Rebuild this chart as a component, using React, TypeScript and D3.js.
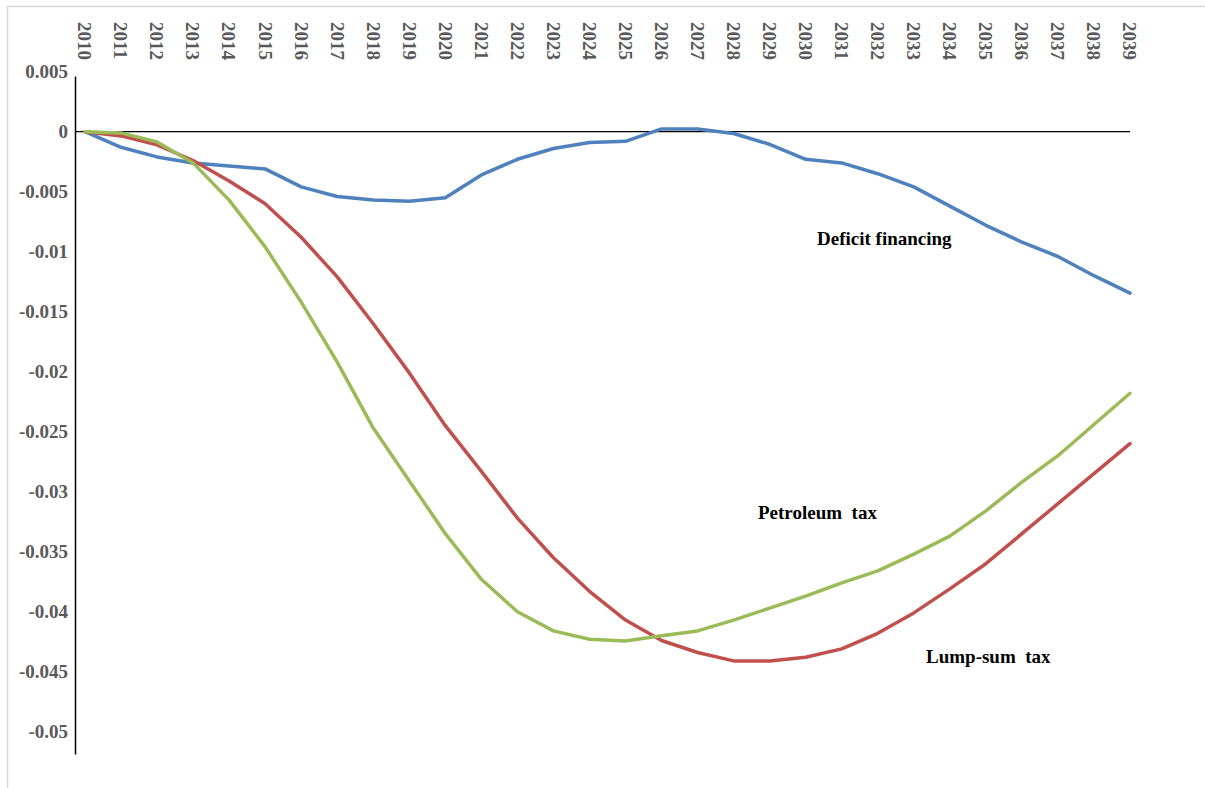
import React from 'react'
import * as d3 from 'd3'

const years = d3.range(2010, 2040).map(String)

const deficitFinancing = [
  0, -0.0013, -0.0021, -0.0026, -0.00285, -0.0031, -0.0046, -0.0054, -0.0057, -0.0058,
  -0.0055, -0.0036, -0.0023, -0.0014, -0.0009, -0.0008, 0.00023, 0.00023, -0.00015, -0.00105,
  -0.0023, -0.0026, -0.0035, -0.0046, -0.0062, -0.0078, -0.0092, -0.0104, -0.012, -0.01345,
]

const lumpSumTax = [
  0, -0.00035, -0.0011, -0.0024, -0.0041, -0.006, -0.0088, -0.0121, -0.016, -0.0201,
  -0.0245, -0.0283, -0.0322, -0.0355, -0.0383, -0.0407, -0.0424, -0.0434, -0.0441, -0.0441,
  -0.0438, -0.0431, -0.0418, -0.0401, -0.0381, -0.036, -0.0335, -0.031, -0.0285, -0.026,
]

const petroleumTax = [
  0, -0.0001, -0.00085, -0.0026, -0.0057, -0.0096, -0.0142, -0.0192, -0.0247, -0.0291,
  -0.0335, -0.0373, -0.04, -0.0416, -0.0423, -0.04245, -0.042, -0.0416, -0.0407, -0.0397,
  -0.0387, -0.0376, -0.0366, -0.0352, -0.0337, -0.0316, -0.0292, -0.027, -0.0244, -0.0218,
]

const yTicks = [0.005, 0, -0.005, -0.01, -0.015, -0.02, -0.025, -0.03, -0.035, -0.04, -0.045, -0.05]

const series = [
  { name: 'Deficit financing', values: deficitFinancing, color: '#4F81BD' },
  { name: 'Lump-sum  tax', values: lumpSumTax, color: '#C0504D' },
  { name: 'Petroleum  tax', values: petroleumTax, color: '#9BBB59' },
]

const labels = [
  { text: 'Deficit financing', x: 817, y: 238 },
  { text: 'Petroleum  tax', x: 758, y: 512 },
  { text: 'Lump-sum  tax', x: 926, y: 656 },
]

const W = 1205
const H = 788
const font = '"Liberation Serif", "Times New Roman", serif'

export default function App() {
  const x = d3.scalePoint<string>().domain(years).range([85, 1130])
  const y = d3.scaleLinear().domain([-0.05, 0.005]).range([731.7, 71.7])
  const axisX = 75.5

  const line = d3.line<number>()
    .x((_, i) => x(years[i]) as number)
    .y(d => y(d))

  return (
    <svg width={W} height={H} style={{ position: 'absolute', left: 0, top: 0, background: '#fff' }}>
      {/* chart area border */}
      <line x1={7} x2={W} y1={6.5} y2={6.5} stroke="#D9D9D9" strokeWidth={1.5} />
      <line x1={7.5} x2={7.5} y1={6} y2={H} stroke="#D9D9D9" strokeWidth={1.5} />

      {/* y axis */}
      <line x1={axisX} x2={axisX} y1={y(0.0046)} y2={y(-0.0519)} stroke="#000" strokeWidth={1.5} />
      {yTicks.map(t => (
        <text key={t} x={68} y={y(t)} dy="0.35em" textAnchor="end"
          fontFamily={font} fontWeight="bold" fontSize={19} fill="#595959">
          {t === 0 ? '0' : String(t)}
        </text>
      ))}

      {/* zero line */}
      <line x1={axisX} x2={x(years[years.length - 1])} y1={y(0)} y2={y(0)} stroke="#000" strokeWidth={1.3} />

      {/* category labels along top */}
      {years.map(yr => (
        <text key={yr} transform={`translate(${x(yr)},22) rotate(90)`} dy="0.35em"
          fontFamily={font} fontWeight="bold" fontSize={19} fill="#595959">
          {yr}
        </text>
      ))}

      {series.map(s => (
        <path key={s.name} d={line(s.values) ?? ''} fill="none" stroke={s.color}
          strokeWidth={3.5} strokeLinejoin="round" strokeLinecap="round" />
      ))}

      {labels.map(l => (
        <text key={l.text} x={l.x} y={l.y} dy="0.35em" fontFamily={font} fontWeight="bold"
          fontSize={19} fill="#000" style={{ whiteSpace: 'pre' }}>
          {l.text}
        </text>
      ))}
    </svg>
  )
}
